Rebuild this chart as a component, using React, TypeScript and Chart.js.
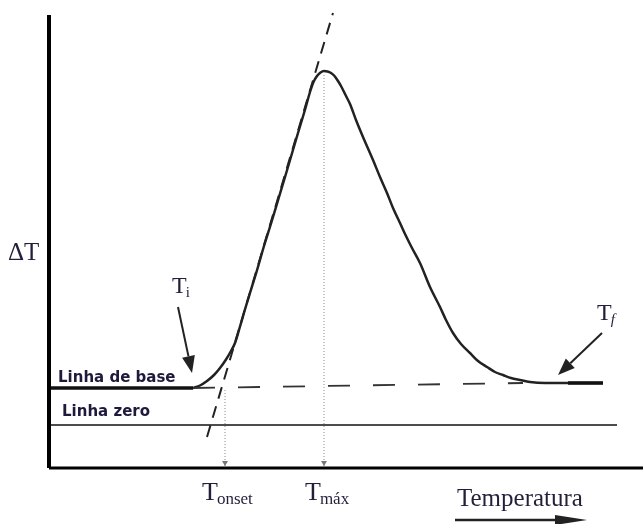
import React, { useEffect, useRef } from "react";
import { Chart, registerables } from "chart.js";

Chart.register(...registerables);

// DTA curve (temperature units along x, ΔT units along y)
const curveT = [144, 151, 158, 165, 171, 177, 182, 186, 190, 195.5, 201, 207.5, 215, 222.5, 230, 237.5, 247.5, 256.5, 261, 264.5, 268, 271.5, 275, 278.5, 282, 285.5, 289, 292, 296, 301, 307, 314, 324, 331, 338, 344, 351, 357, 363, 371, 381, 391, 397, 404, 412, 421, 429, 438, 446, 454, 462, 471, 481, 496, 521, 554];
const curveDT = [80, 82.5, 87, 93, 100, 108.5, 117, 125, 138, 157, 175, 196, 222, 246, 271, 296, 330, 360, 376, 386, 392, 395.5, 397, 396.5, 395, 392, 387, 382, 374, 364, 348, 331, 308, 291, 275, 260, 245, 232, 220, 205, 181, 161, 148, 135, 124, 115, 107, 101, 96, 93, 90, 88, 86, 85, 85, 85];

// base line (before the event), extrapolated base line, final base line
const baseStartT = [0, 144];
const baseStartDT = [80, 80];
const baseDashT = [144, 474];
const baseDashDT = [80, 85];
const baseEndT = [519, 554];
const baseEndDT = [85, 85];

// zero line
const zeroT = [0, 568];
const zeroDT = [43, 43];

// onset tangent
const tangentT = [158, 284];
const tangentDT = [31, 455];

// characteristic temperatures
const tOnset = 176;
const tOnsetDT = 78;
const tMax = 275;
const tMaxDT = 393;

// axes extents
const xMax = 594;
const yMax = 453;

const labelMain = ["ΔT", "T", "T", "T", "T", "Temperatura"];
const labelSub = ["", "i", "f", "onset", "máx", ""];
const baseLabels = ["Linha de base", "Linha zero"];

const pts = (xs: number[], ys: number[]) => xs.map((x, i) => ({ x, y: ys[i] }));

export default function App() {
  const ref = useRef<HTMLCanvasElement | null>(null);

  useEffect(() => {
    const canvas = ref.current;
    if (!canvas) return;

    const serif = '"Liberation Serif", "Times New Roman", serif';
    const sans = '"DejaVu Sans", sans-serif';
    const navy = "#1d1a3c";

    const arrow = (ctx: CanvasRenderingContext2D, x1: number, y1: number, x2: number, y2: number, head: number, hw: number, lw: number, color: string) => {
      const a = Math.atan2(y2 - y1, x2 - x1);
      const bx = x2 - head * Math.cos(a);
      const by = y2 - head * Math.sin(a);
      ctx.save();
      ctx.strokeStyle = color;
      ctx.fillStyle = color;
      ctx.lineWidth = lw;
      ctx.beginPath();
      ctx.moveTo(x1, y1);
      ctx.lineTo(bx, by);
      ctx.stroke();
      ctx.beginPath();
      ctx.moveTo(x2, y2);
      ctx.lineTo(bx + hw * Math.sin(a), by - hw * Math.cos(a));
      ctx.lineTo(bx - hw * Math.sin(a), by + hw * Math.cos(a));
      ctx.closePath();
      ctx.fill();
      ctx.restore();
    };

    const annotations = {
      id: "annotations",
      afterDatasetsDraw(chart: any) {
        const ctx: CanvasRenderingContext2D = chart.ctx;
        const xs = chart.scales.x;
        const ys = chart.scales.y;
        const px = (v: number) => xs.getPixelForValue(v);
        const py = (v: number) => ys.getPixelForValue(v);
        ctx.save();
        ctx.textBaseline = "alphabetic";
        ctx.textAlign = "left";

        const withSub = (main: string, sub: string, x: number, y: number, size: number, subSize: number, drop: number, italic = false) => {
          ctx.fillStyle = "#231f3a";
          ctx.font = `${size}px ${serif}`;
          ctx.fillText(main, x, y);
          const w = ctx.measureText(main).width;
          if (sub) {
            ctx.font = `${italic ? "italic " : ""}${subSize}px ${serif}`;
            ctx.fillText(sub, x + w - 1, y + drop);
          }
        };

        // ΔT
        withSub(labelMain[0], labelSub[0], px(-41), py(208), 25, 15, 0);
        // Ti
        withSub(labelMain[1], labelSub[1], px(123), py(175), 24, 15, 4);
        // Tf
        withSub(labelMain[2], labelSub[2], px(548), py(148), 24, 15, 4, true);
        // Tonset, Tmáx
        withSub(labelMain[3], labelSub[3], px(153), py(-32), 26, 17, 4);
        withSub(labelMain[4], labelSub[4], px(256), py(-32), 26, 17, 4);
        // Temperatura
        withSub(labelMain[5], labelSub[5], px(408), py(-38), 25, 15, 0);

        // base/zero line labels
        ctx.fillStyle = navy;
        ctx.font = `bold 15px ${sans}`;
        ctx.fillText(baseLabels[0], px(9), py(86));
        ctx.fillText(baseLabels[1], px(13), py(52));

        // arrows
        arrow(ctx, px(129), py(161), px(143), py(95), 17, 6.5, 2, "#222");
        arrow(ctx, px(553), py(135), px(509), py(93), 17, 6.5, 2, "#222");
        arrow(ctx, px(406), py(-52), px(538), py(-52), 32, 5, 2.5, "#222");

        // small marks at the bottom of the dotted lines
        for (const t of [tOnset, tMax]) {
          const x = px(t);
          const y = py(0) - 2;
          ctx.fillStyle = "#777";
          ctx.beginPath();
          ctx.moveTo(x, y);
          ctx.lineTo(x - 3, y - 5);
          ctx.lineTo(x + 3, y - 5);
          ctx.closePath();
          ctx.fill();
        }
        ctx.restore();
      },
    };

    const line = (data: any[], extra: any) => ({
      data,
      showLine: true,
      pointRadius: 0,
      borderColor: "#1e1e1e",
      borderWidth: 1.5,
      fill: false,
      clip: false,
      tension: 0,
      ...extra,
    });

    const chart = new Chart(canvas, {
      type: "scatter",
      data: {
        datasets: [
          line(pts([0, 0], [0, yMax]), { borderWidth: 4, borderColor: "#000" }),
          line(pts([0, xMax], [0, 0]), { borderWidth: 3, borderColor: "#000" }),
          line(pts(zeroT, zeroDT), { borderWidth: 1.5, borderColor: "#111" }),
          line(pts(baseStartT, baseStartDT), { borderWidth: 3.5, borderColor: "#111" }),
          line(pts(baseDashT, baseDashDT), { borderWidth: 1.8, borderColor: "#333", borderDash: [22, 23] }),
          line(pts(baseEndT, baseEndDT), { borderWidth: 3.5, borderColor: "#111" }),
          line(pts([tOnset, tOnset], [tOnsetDT, 0]), { borderWidth: 1, borderColor: "#888", borderDash: [1, 2] }),
          line(pts([tMax, tMax], [tMaxDT, 0]), { borderWidth: 1, borderColor: "#888", borderDash: [1, 2] }),
          line(pts(tangentT, tangentDT), { borderWidth: 2, borderColor: "#222", borderDash: [12, 8] }),
          line(pts(curveT, curveDT), { borderWidth: 2.5, borderColor: "#222", cubicInterpolationMode: "monotone" }),
        ],
      },
      options: {
        responsive: false,
        animation: false,
        devicePixelRatio: 1,
        layout: { padding: { left: 49, right: 0, top: 15, bottom: 56 } },
        scales: {
          x: { type: "linear", min: 0, max: xMax, display: false },
          y: { type: "linear", min: 0, max: yMax, display: false },
        },
        plugins: { legend: { display: false }, tooltip: { enabled: false } },
      },
      plugins: [annotations],
    } as any);

    return () => chart.destroy();
  }, []);

  return (
    <div style={{ position: "fixed", left: 0, top: 0, width: 643, height: 524, background: "#fff" }}>
      <canvas ref={ref} width={643} height={524} style={{ display: "block" }} />
    </div>
  );
}
